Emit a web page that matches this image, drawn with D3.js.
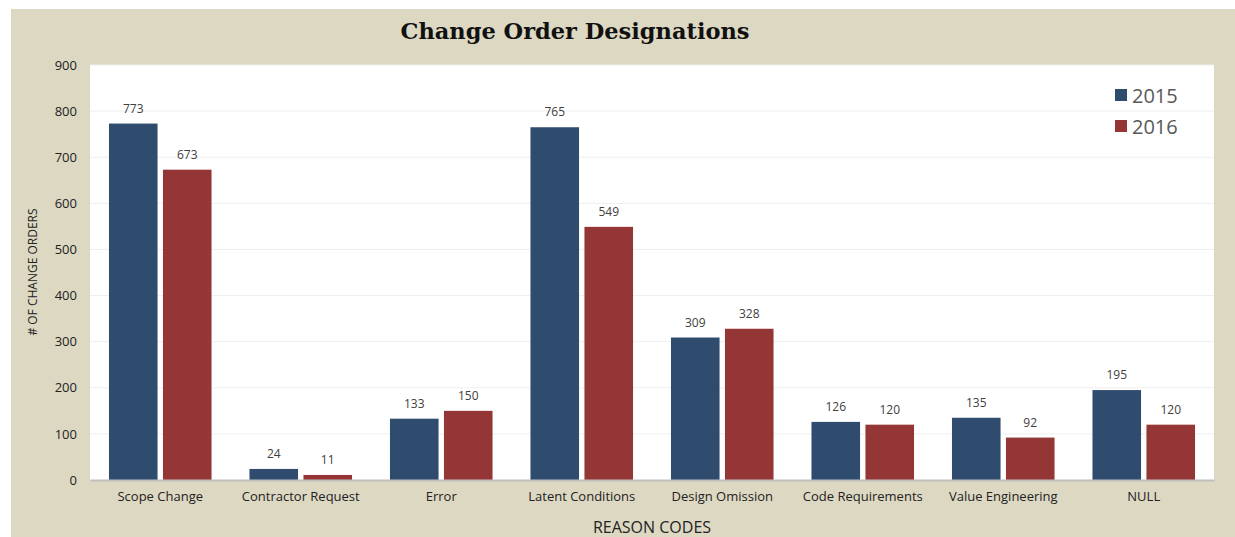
<!DOCTYPE html>
<html>
<head>
<meta charset="utf-8">
<script src="https://cdn.jsdelivr.net/npm/d3@7"></script>
<style>
  body { margin: 0; background: #fff; }
  text { font-family: "Open Sans", "Noto Sans", sans-serif; }
</style>
</head>
<body>
<div id="chart"></div>
<script>
// data
var categories = ["Scope Change", "Contractor Request", "Error", "Latent Conditions",
  "Design Omission", "Code Requirements", "Value Engineering", "NULL"];
var series2015 = [773, 24, 133, 765, 309, 126, 135, 195];
var series2016 = [673, 11, 150, 549, 328, 120, 92, 120];
var years = ["2015", "2016"];
var yTicks = [0, 100, 200, 300, 400, 500, 600, 700, 800, 900];

var width = 1235;
var height = 537;
var colors = { "2015": "#2f4b6e", "2016": "#943635" };

// plot area
var margin = { top: 65, right: 21, bottom: 57, left: 90 };
var width1 = width - margin.left - margin.right;
var height1 = height - margin.top - margin.bottom;

var svg = d3.select("#chart")
  .append("svg")
  .attr("width", width)
  .attr("height", height);

// beige panel
svg.append("rect")
  .attr("x", 11).attr("y", 9)
  .attr("width", width - 11).attr("height", height - 9)
  .attr("fill", "#ddd8c2");

var chart1 = svg.append("g")
  .attr("transform", `translate(${margin.left}, ${margin.top})`);

chart1.append("rect")
  .attr("width", width1)
  .attr("height", height1)
  .attr("fill", "#fff");

var xscale = d3.scaleBand()
  .domain(categories)
  .range([0, width1])
  .paddingInner(0.27)
  .paddingOuter(0.135);

var xsub = d3.scaleBand()
  .domain(years)
  .range([0, xscale.bandwidth()])
  .paddingInner(0.1);

var yscale = d3.scaleLinear()
  .domain([0, 900])
  .range([height1, 0]);

// gridlines
chart1.append("g")
  .selectAll("line")
  .data(yTicks.slice(1))
  .enter()
  .append("line")
  .attr("x1", 0)
  .attr("x2", width1)
  .attr("y1", d => yscale(d))
  .attr("y2", d => yscale(d))
  .attr("stroke", "#efefef")
  .attr("stroke-width", 1);

// y axis labels
var yAxis = d3.axisLeft(yscale).tickValues(yTicks).tickSize(0).tickPadding(13);
var yg = chart1.append("g").call(yAxis);
yg.select(".domain").remove();
yg.selectAll("text")
  .style("font-size", "13px")
  .attr("fill", "#222");

// bars
var rows = categories.map(function (c, i) {
  return { cat: c, values: [{ year: "2015", v: series2015[i] }, { year: "2016", v: series2016[i] }] };
});

var groups = chart1.selectAll(".grp")
  .data(rows)
  .enter()
  .append("g")
  .attr("class", "grp")
  .attr("transform", d => `translate(${xscale(d.cat)}, 0)`);

groups.selectAll("rect")
  .data(d => d.values)
  .enter()
  .append("rect")
  .attr("x", d => xsub(d.year))
  .attr("y", d => yscale(d.v))
  .attr("width", xsub.bandwidth())
  .attr("height", d => height1 - yscale(d.v))
  .attr("fill", d => colors[d.year]);

groups.selectAll(".val")
  .data(d => d.values)
  .enter()
  .append("text")
  .attr("class", "val")
  .attr("x", d => xsub(d.year) + xsub.bandwidth() / 2)
  .attr("y", d => yscale(d.v) - 11)
  .style("font-size", "12px")
  .style("text-anchor", "middle")
  .attr("fill", "#404040")
  .text(d => d.v);

// x axis
var xAxis = d3.axisBottom(xscale).tickSize(0).tickPadding(12);
var xg = chart1.append("g")
  .attr("transform", `translate(0, ${height1})`)
  .call(xAxis);
xg.select(".domain").attr("stroke", "#bfbfbf").attr("stroke-width", 2);
xg.selectAll("text")
  .style("font-size", "13px")
  .attr("fill", "#222");

// legend
var legend = svg.append("g")
  .attr("transform", "translate(1115, 89)");
years.forEach(function (y, i) {
  legend.append("rect")
    .attr("x", 0).attr("y", i * 31)
    .attr("width", 12).attr("height", 12)
    .attr("fill", colors[y]);
  legend.append("text")
    .attr("x", 17).attr("y", i * 31 + 14)
    .style("font-size", "20px")
    .attr("fill", "#595959")
    .text(y);
});

// titles
svg.append("text")
  .attr("x", 575).attr("y", 39)
  .style("font-family", "'DejaVu Serif', serif")
  .style("font-weight", "bold")
  .style("font-size", "22.5px")
  .style("text-anchor", "middle")
  .attr("fill", "#111")
  .text("Change Order Designations");

svg.append("text")
  .attr("transform", "translate(37, 272) rotate(-90)")
  .style("font-size", "12px")
  .style("text-anchor", "middle")
  .attr("fill", "#222")
  .text("# OF CHANGE ORDERS");

svg.append("text")
  .attr("x", 652).attr("y", 533)
  .style("font-size", "16px")
  .style("text-anchor", "middle")
  .attr("fill", "#222")
  .text("REASON CODES");
</script>
</body>
</html>
